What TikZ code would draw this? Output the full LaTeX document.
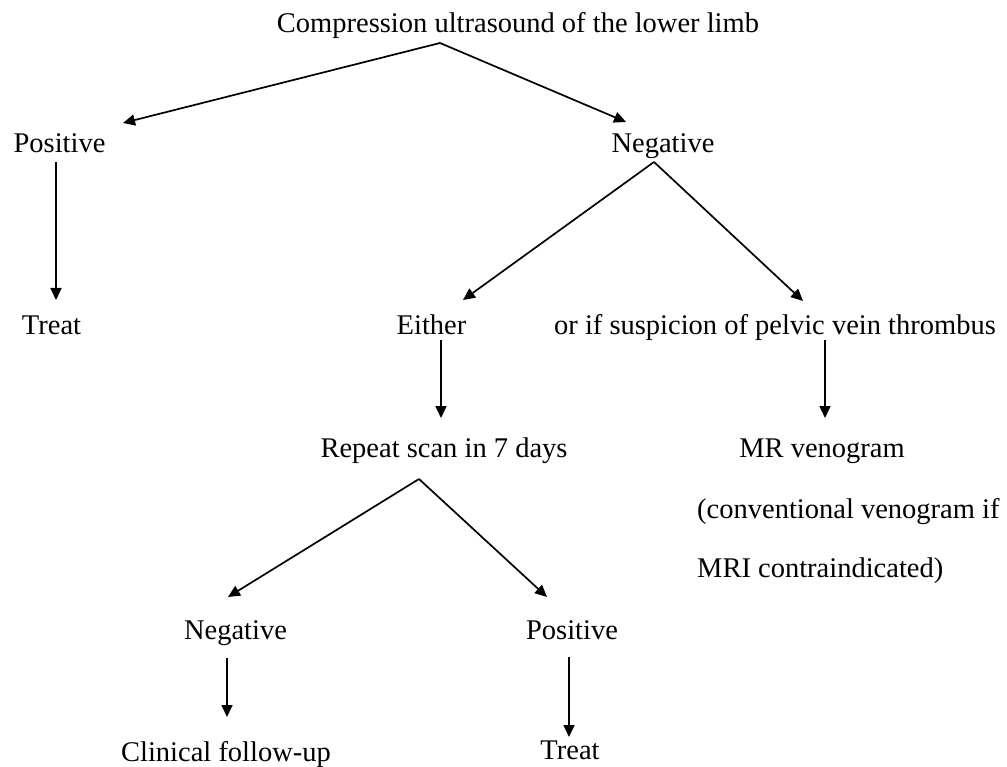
\documentclass[tikz,border=0pt]{standalone}
\usepackage{fontspec}
\setmainfont{Liberation Serif}
\usetikzlibrary{arrows.meta}
\begin{document}
\begin{tikzpicture}[x=1pt,y=-1pt,
  lbl/.style={inner sep=0pt,anchor=base,font=\fontsize{28.5}{34}\selectfont},
  lbll/.style={inner sep=0pt,anchor=base west,font=\fontsize{28.5}{34}\selectfont},
  arr/.style={line width=1.7pt,-{Triangle[length=12pt,width=11pt]}}]
\useasboundingbox (0,0) rectangle (1007,767);
\node[lbl] (top) at (518,33) {Compression ultrasound of the lower limb};
\node[lbl] (pos1) at (59.5,153) {Positive};
\node[lbl] (neg1) at (663,153) {Negative};
\node[lbl] (treat1) at (51.5,335) {Treat};
\node[lbl] (either) at (431.5,335) {Either};
\node[lbl] (pelvic) at (775,335) {or if suspicion of pelvic vein thrombus};
\node[lbl] (repeat) at (444,457) {Repeat scan in 7 days};
\node[lbl] (mr) at (822,457) {MR venogram};
\node[lbll] (conv) at (697,518) {(conventional venogram if};
\node[lbll] (mri) at (697,577) {MRI contraindicated)};
\node[lbl] (neg2) at (235.5,639) {Negative};
\node[lbl] (pos2) at (572,639) {Positive};
\node[lbl] (clin) at (226,761) {Clinical follow-up};
\node[lbl] (treat2) at (570,759) {Treat};
% connector end points
\coordinate (a1) at (440,43);
\coordinate (t1l) at (123,123);
\coordinate (t1r) at (626,122);
\coordinate (a2) at (654,162);
\coordinate (t2l) at (463,300);
\coordinate (t2r) at (803,301);
\coordinate (a3) at (419,479);
\coordinate (t3l) at (228,597);
\coordinate (t3r) at (547,597);
\coordinate (s1) at (56,162);   \coordinate (e1) at (56,300);
\coordinate (s2) at (441,340);  \coordinate (e2) at (441,418);
\coordinate (s3) at (825,340);  \coordinate (e3) at (825,418);
\coordinate (s4) at (227,658);  \coordinate (e4) at (227,717);
\coordinate (s5) at (569,657);  \coordinate (e5) at (569,737);
\draw[arr] (a1) -- (t1l);
\draw[arr] (a1) -- (t1r);
\draw[arr] (s1) -- (e1);
\draw[arr] (a2) -- (t2l);
\draw[arr] (a2) -- (t2r);
\draw[arr] (s2) -- (e2);
\draw[arr] (s3) -- (e3);
\draw[arr] (a3) -- (t3l);
\draw[arr] (a3) -- (t3r);
\draw[arr] (s4) -- (e4);
\draw[arr] (s5) -- (e5);
\end{tikzpicture}
\end{document}
